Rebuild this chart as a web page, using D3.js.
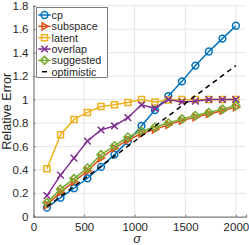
<!DOCTYPE html>
<html>
<head>
<meta charset="utf-8">
<script src="https://cdn.jsdelivr.net/npm/d3@7"></script>
<style>
  body { margin: 0; background: #fff; }
  text { font-family: "Liberation Sans", Arial, sans-serif; fill: #262626; }
</style>
</head>
<body>
<svg id="chart"></svg>
<script>
const sigma = [133, 267, 400, 533, 667, 800, 933, 1067, 1200, 1333, 1467, 1600, 1733, 1867, 2000]
const cp = [0.077, 0.162, 0.243, 0.328, 0.425, 0.53, 0.645, 0.775, 0.91, 1.03, 1.155, 1.29, 1.41, 1.52, 1.63]
const subspace = [0.10, 0.21, 0.30, 0.39, 0.50, 0.585, 0.655, 0.71, 0.745, 0.785, 0.82, 0.85, 0.877, 0.905, 0.935]
const latent = [0.41, 0.70, 0.83, 0.89, 0.94, 0.955, 0.975, 1.0, 0.98, 0.995, 1.0, 1.0, 1.0, 1.0, 1.0]
const overlap = [0.18, 0.355, 0.50, 0.645, 0.74, 0.775, 0.845, 0.955, 0.925, 1.0, 0.98, 0.985, 1.0, 1.0, 1.0]
const suggested = [0.12, 0.235, 0.325, 0.415, 0.53, 0.605, 0.68, 0.73, 0.765, 0.80, 0.835, 0.863, 0.89, 0.918, 0.948]
const optimisticSigma = [133, 2000]
const optimistic = [0.086, 1.29]
const xTicks = [0, 500, 1000, 1500, 2000]
const yTicks = [0, 0.2, 0.4, 0.6, 0.8, 1, 1.2, 1.4, 1.6, 1.8]

const width = 249
const height = 245
const svg = d3.select('#chart').attr('width', width).attr('height', height)

const xScale = d3.scaleLinear().domain([0, 2100]).range([33.5, 246])
const yScale = d3.scaleLinear().domain([0, 1.8]).range([216.7, 5.8])

// grid
svg.append('g').selectAll('line').data(xTicks.slice(1))
    .enter().append('line')
        .attr('x1', d => xScale(d)).attr('x2', d => xScale(d))
        .attr('y1', yScale(0)).attr('y2', yScale(1.8))
        .attr('stroke', '#e6e6e6').attr('stroke-width', 1)
svg.append('g').selectAll('line').data(yTicks.slice(1))
    .enter().append('line')
        .attr('x1', xScale(0)).attr('x2', xScale(2100))
        .attr('y1', d => yScale(d)).attr('y2', d => yScale(d))
        .attr('stroke', '#e6e6e6').attr('stroke-width', 1)

// axes
const xAxis = svg.append('g')
    .attr('transform', `translate(0,${yScale(0)})`)
    .call(d3.axisBottom(xScale).tickValues(xTicks).tickSize(-2).tickPadding(6).tickFormat(d3.format('d')))
const yAxis = svg.append('g')
    .attr('transform', `translate(${xScale(0)},0)`)
    .call(d3.axisLeft(yScale).tickValues(yTicks).tickSize(-2).tickPadding(5).tickFormat(d3.format('~g')))
;[xAxis, yAxis].forEach(a => {
    a.select('.domain').attr('stroke', '#7a7a7a').attr('stroke-width', 1.2)
    a.selectAll('.tick line').attr('stroke', '#7a7a7a')
    a.selectAll('text').style('font-size', '11.5px').attr('fill', '#262626')
})

svg.append('text')
    .attr('transform', `translate(6.5,${(yScale(0) + yScale(1.8)) / 2}) rotate(-90)`)
    .attr('text-anchor', 'middle').attr('dominant-baseline', 'central')
    .style('font-size', '12.6px')
    .text('Relative Error')
svg.append('text')
    .attr('x', 137).attr('y', 243)
    .attr('text-anchor', 'middle')
    .style('font-size', '12.6px').style('font-style', 'italic')
    .text('σ')

const series = [
    {name: 'cp', values: cp, color: '#0072BD', marker: 'circle'},
    {name: 'subspace', values: subspace, color: '#D95319', marker: 'triangle'},
    {name: 'latent', values: latent, color: '#EDB120', marker: 'square'},
    {name: 'overlap', values: overlap, color: '#7E2F8E', marker: 'cross'},
    {name: 'suggested', values: suggested, color: '#77AC30', marker: 'diamond'}
]

const markerPath = type => {
    if (type === 'circle') return d3.symbol(d3.symbolCircle, 36)()
    if (type === 'square') return 'M-3,-3H3V3H-3Z'
    if (type === 'triangle') return 'M3.6,0L-2.4,-3.6L-2.4,3.6Z'
    if (type === 'diamond') return 'M0,-4L4,0L0,4L-4,0Z'
    if (type === 'cross') return 'M-3.3,-3.3L3.3,3.3M-3.3,3.3L3.3,-3.3'
}

const line = d3.line().x(d => xScale(d[0])).y(d => yScale(d[1]))

series.forEach(s => {
    const pts = sigma.map((x, i) => [x, s.values[i]])
    const g = svg.append('g')
    g.append('path').datum(pts)
        .attr('d', line)
        .attr('fill', 'none').attr('stroke', s.color).attr('stroke-width', 1.5)
    g.selectAll('path.m').data(pts)
        .enter().append('path')
            .attr('class', 'm')
            .attr('d', markerPath(s.marker))
            .attr('transform', d => `translate(${xScale(d[0])},${yScale(d[1])})`)
            .attr('fill', 'none').attr('stroke', s.color).attr('stroke-width', 1.5)
})

svg.append('path').datum(optimisticSigma.map((x, i) => [x, optimistic[i]]))
    .attr('d', line)
    .attr('fill', 'none').attr('stroke', '#000').attr('stroke-width', 1.5)
    .attr('stroke-dasharray', '5,4')

// legend
const lg = svg.append('g')
lg.append('rect')
    .attr('x', 36.7).attr('y', 7.3).attr('width', 70.6).attr('height', 70)
    .attr('fill', '#fff').attr('stroke', '#262626').attr('stroke-width', 0.6)
const legendItems = series.concat([{name: 'optimistic', color: '#000', marker: null}])
legendItems.forEach((s, i) => {
    const y = 15 + i * 11.34
    if (s.marker) {
        lg.append('line').attr('x1', 38.3).attr('x2', 50.7).attr('y1', y).attr('y2', y)
            .attr('stroke', s.color).attr('stroke-width', 1.5)
        lg.append('path').attr('d', markerPath(s.marker))
            .attr('transform', `translate(44.5,${y})`)
            .attr('fill', 'none').attr('stroke', s.color).attr('stroke-width', 1.5)
    } else {
        lg.append('line').attr('x1', 42).attr('x2', 47).attr('y1', y).attr('y2', y)
            .attr('stroke', s.color).attr('stroke-width', 1.5)
    }
    lg.append('text').attr('x', 51.5).attr('y', y)
        .attr('dominant-baseline', 'central')
        .style('font-size', '10.8px')
        .text(s.name)
})
</script>
</body>
</html>
